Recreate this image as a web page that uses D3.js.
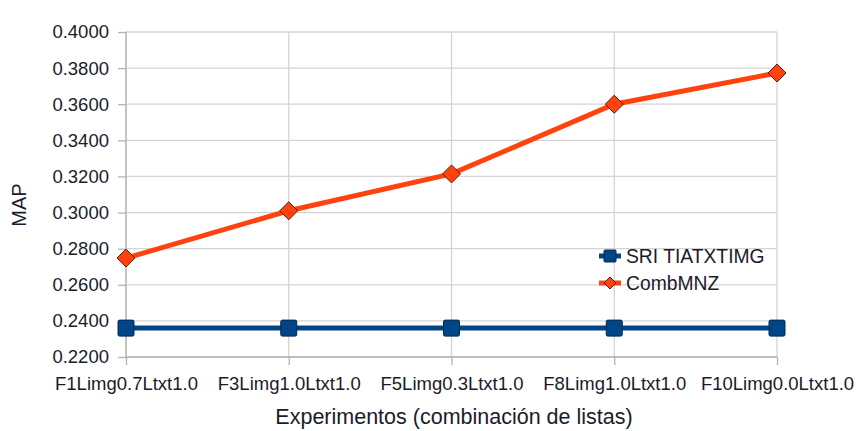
<!DOCTYPE html>
<html>
<head>
<meta charset="utf-8">
<script src="https://cdn.jsdelivr.net/npm/d3@7"></script>
<style>
  body { margin: 0; background: #fff; }
  text { font-family: "Liberation Sans", Arial, sans-serif; fill: #1b1b2a; }
</style>
</head>
<body>
<svg id="chart" width="858" height="431"></svg>
<script>
const categories = ["F1Limg0.7Ltxt1.0", "F3Limg1.0Ltxt1.0", "F5Limg0.3Ltxt1.0", "F8Limg1.0Ltxt1.0", "F10Limg0.0Ltxt1.0"];
const sriValues = [0.2360, 0.2360, 0.2360, 0.2360, 0.2360];
const combValues = [0.2748, 0.3010, 0.3214, 0.3600, 0.3773];
const yTicks = [0.22, 0.24, 0.26, 0.28, 0.30, 0.32, 0.34, 0.36, 0.38, 0.40];
const seriesNames = ["SRI TIATXTIMG", "CombMNZ"];

const svg = d3.select("#chart");
const plotLeft = 126, plotRight = 777, plotTop = 32, plotBottom = 357;

let x = d3.scalePoint().domain(categories).range([plotLeft, plotRight]);
let y = d3.scaleLinear().domain([0.22, 0.40]).range([plotBottom, plotTop]);

// horizontal grid
svg.append("g")
    .selectAll("line")
    .data(yTicks)
    .join("line")
        .attr("x1", plotLeft)
        .attr("x2", plotRight)
        .attr("y1", d => y(d))
        .attr("y2", d => y(d))
        .attr("stroke", "#d4d4d4")
        .attr("stroke-width", 1.3);

// vertical grid
svg.append("g")
    .selectAll("line")
    .data(categories)
    .join("line")
        .attr("x1", d => x(d))
        .attr("x2", d => x(d))
        .attr("y1", plotTop)
        .attr("y2", plotBottom)
        .attr("stroke", "#d4d4d4")
        .attr("stroke-width", 1.3);

// y axis
let yAxis = d3.axisLeft(y)
    .tickValues(yTicks)
    .tickFormat(d3.format(".4f"))
    .tickSize(8)
    .tickPadding(9);
let yg = svg.append("g").attr("transform", `translate(${plotLeft},0)`).call(yAxis);
yg.select(".domain").attr("stroke", "#b3b3b3").attr("stroke-width", 1.3)
    .attr("d", `M0,${plotTop}V${plotBottom}`);
yg.selectAll(".tick line").attr("stroke", "#b3b3b3").attr("stroke-width", 1.3);
yg.selectAll(".tick text").attr("font-size", 18.5).style("fill", "#1b1b2a");

// x axis
let xAxis = d3.axisBottom(x).tickSize(8).tickPadding(12);
let xg = svg.append("g").attr("transform", `translate(0,${plotBottom})`).call(xAxis);
xg.select(".domain").attr("stroke", "#b3b3b3").attr("stroke-width", 1.3)
    .attr("d", `M${plotLeft},0H${plotRight}`);
xg.selectAll(".tick line").attr("stroke", "#b3b3b3").attr("stroke-width", 1.3);
xg.selectAll(".tick text").attr("font-size", 18.5).style("fill", "#1b1b2a");

// axis titles
svg.append("text")
    .attr("transform", "translate(26,205) rotate(-90)")
    .attr("text-anchor", "middle")
    .attr("font-size", 20)
    .text("MAP");
svg.append("text")
    .attr("x", 454)
    .attr("y", 424)
    .attr("text-anchor", "middle")
    .attr("font-size", 21.5)
    .text("Experimentos (combinación de listas)");

let line = d3.line().x((d, i) => x(categories[i])).y(d => y(d));

// SRI series
svg.append("path")
    .attr("d", line(sriValues))
    .attr("fill", "none")
    .attr("stroke", "#004586")
    .attr("stroke-width", 5);
svg.append("g")
    .selectAll("rect")
    .data(sriValues)
    .join("rect")
        .attr("x", (d, i) => x(categories[i]) - 8)
        .attr("y", d => y(d) - 8)
        .attr("width", 16)
        .attr("height", 16)
        .attr("rx", 1.5)
        .attr("fill", "#004586")
        .attr("stroke", "#002a52")
        .attr("stroke-width", 1);

// CombMNZ series
svg.append("path")
    .attr("d", line(combValues))
    .attr("fill", "none")
    .attr("stroke", "#ff420e")
    .attr("stroke-width", 5);
let diamond = "M0,-9L9,0L0,9L-9,0Z";
svg.append("g")
    .selectAll("path")
    .data(combValues)
    .join("path")
        .attr("transform", (d, i) => `translate(${x(categories[i])},${y(d)})`)
        .attr("d", diamond)
        .attr("fill", "#ff420e")
        .attr("stroke", "#5a1e0a")
        .attr("stroke-width", 1);

// legend
let legend = svg.append("g").attr("transform", "translate(599,256)");
legend.append("line")
    .attr("x1", 0).attr("x2", 22).attr("y1", 0).attr("y2", 0)
    .attr("stroke", "#004586").attr("stroke-width", 5);
legend.append("rect")
    .attr("x", 5).attr("y", -6).attr("width", 12).attr("height", 12).attr("rx", 1)
    .attr("fill", "#004586").attr("stroke", "#002a52");
legend.append("text")
    .attr("x", 27).attr("y", 7)
    .attr("font-size", 19.3)
    .text(seriesNames[0]);
legend.append("line")
    .attr("x1", 0).attr("x2", 22).attr("y1", 27).attr("y2", 27)
    .attr("stroke", "#ff420e").attr("stroke-width", 5);
legend.append("path")
    .attr("transform", "translate(11,27)")
    .attr("d", "M0,-6L6,0L0,6L-6,0Z")
    .attr("fill", "#ff420e").attr("stroke", "#5a1e0a");
legend.append("text")
    .attr("x", 27).attr("y", 34)
    .attr("font-size", 19.3)
    .text(seriesNames[1]);
</script>
</body>
</html>
